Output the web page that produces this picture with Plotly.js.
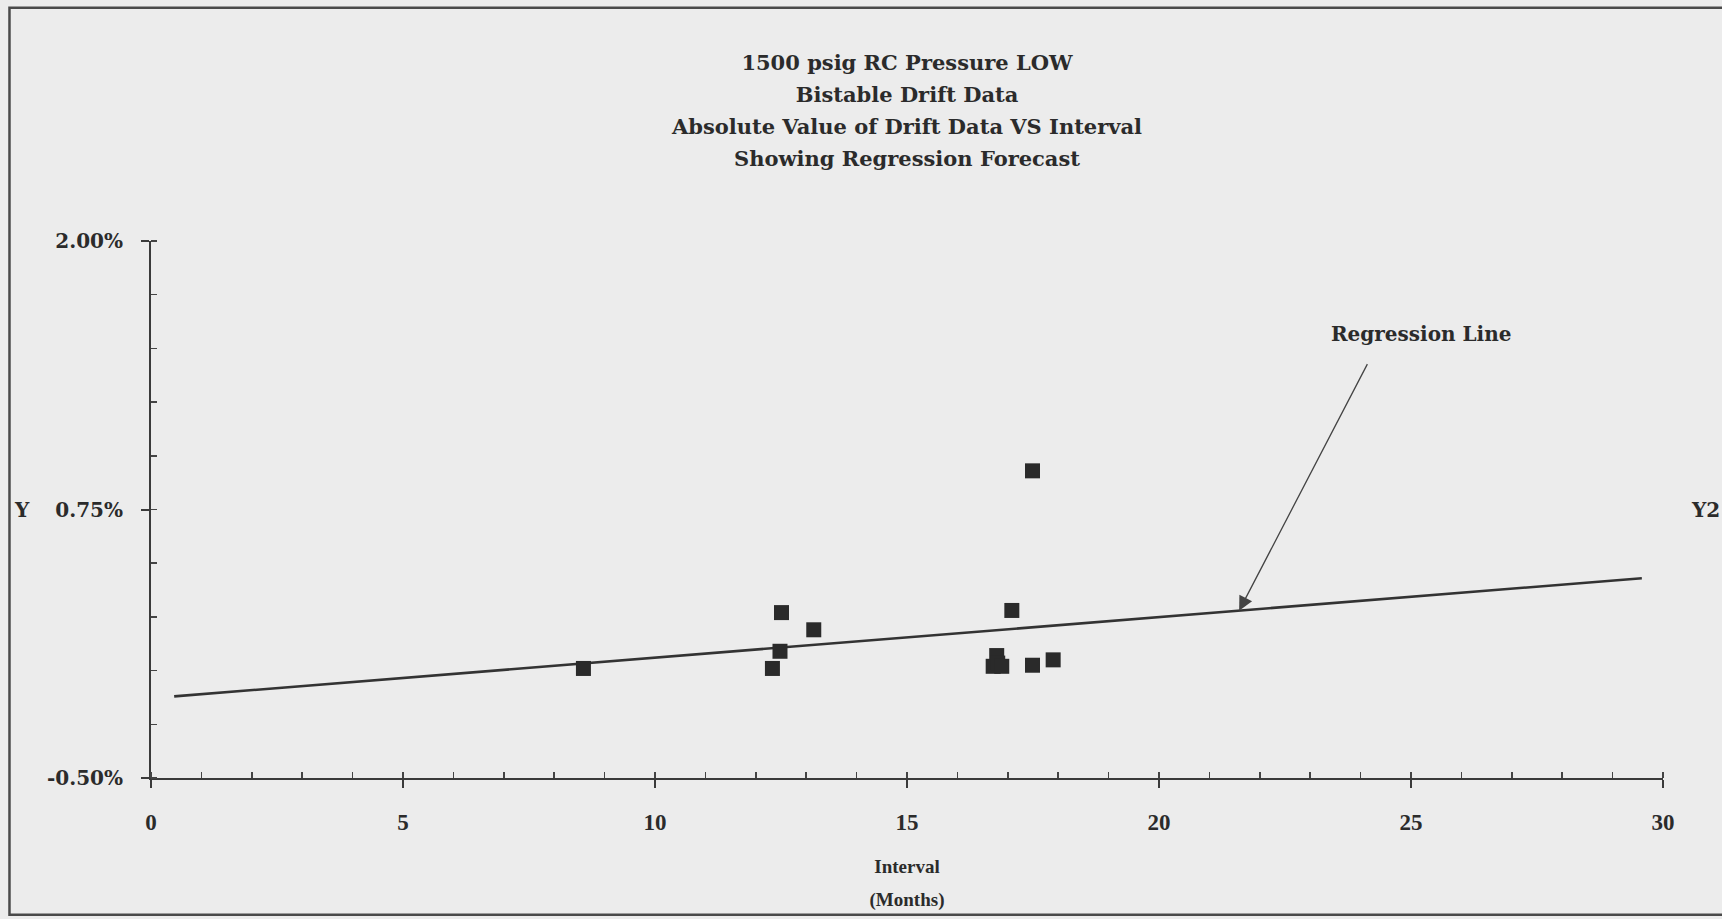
<!DOCTYPE html>
<html>
<head>
<meta charset="utf-8">
<script src="https://cdn.plot.ly/plotly-3.0.1.min.js"></script>
<style>
  html, body { margin: 0; padding: 0; background: #ececec; }
  #chart { width: 1722px; height: 919px; }
</style>
</head>
<body>
<div id="chart"></div>
<script>
// Absolute bistable drift (%) against calibration interval (months)
const intervalMonths = [8.58, 12.33, 12.48, 12.51, 13.15, 16.71, 16.78, 16.80, 16.88, 17.08, 17.49, 17.49, 17.90];
const driftPercent   = [0.01, 0.01, 0.09, 0.27, 0.19, 0.02, 0.07, 0.035, 0.02, 0.28, 0.025, 0.93, 0.05];

// Regression forecast line end points
const regressionMonths  = [0.46, 29.58];
const regressionPercent = [-0.12, 0.43];

// Axis ticks
const xTickVals = [0, 5, 10, 15, 20, 25, 30];
const xTickText = ['0', '5', '10', '15', '20', '25', '30'];
const yTickVals = [-0.5, 0.75, 2.0];
const yTickText = ['-0.50%', '0.75%', '2.00%'];

const titleLines = [
  '1500 psig RC Pressure LOW',
  'Bistable Drift Data',
  'Absolute Value of Drift Data VS Interval',
  'Showing Regression Forecast'
];
const xTitleLines = ['Interval', '(Months)'];

const INK = '#2b2b2b';
const SERIF_WIDE = 'DejaVu Serif, serif';
const SERIF_TALL = 'Liberation Serif, Times New Roman, serif';

// point on the regression line where the call-out arrow lands
const arrowX = 21.59;
const t = (arrowX - regressionMonths[0]) / (regressionMonths[1] - regressionMonths[0]);
const arrowY = regressionPercent[0] + t * (regressionPercent[1] - regressionPercent[0]);

const spanLines = (lines, px) => lines.map(s => '<span style="font-size:' + px + 'px">' + s + '</span>').join('<br>');

const traces = [
  {
    type: 'scatter', mode: 'lines',
    x: regressionMonths, y: regressionPercent,
    line: { color: '#333333', width: 2.6 },
    hoverinfo: 'skip'
  },
  {
    type: 'scatter', mode: 'markers',
    x: intervalMonths, y: driftPercent,
    marker: { symbol: 'square', size: 15, color: '#2a2a2a', line: { width: 0 } }
  }
];

const layout = {
  width: 1722, height: 919,
  margin: { l: 151, r: 59, t: 241, b: 141, pad: 0 },
  paper_bgcolor: '#ececec',
  plot_bgcolor: '#ececec',
  showlegend: false,
  title: {
    text: spanLines(titleLines, 21),
    font: { family: SERIF_WIDE, size: 24.5, color: INK, weight: 'bold' },
    xref: 'paper', x: 0.5, xanchor: 'center',
    yref: 'container', y: 1 - 70 / 919, yanchor: 'top'
  },
  xaxis: {
    range: [0, 30],
    showline: true, linecolor: '#3a3a3a', linewidth: 2,
    showgrid: false, zeroline: false,
    tickmode: 'array', tickvals: xTickVals, ticktext: xTickText,
    ticks: 'outside', ticklen: 8, tickwidth: 2, tickcolor: '#3a3a3a',
    ticklabelstandoff: 14,
    tickfont: { family: SERIF_TALL, size: 23, color: INK, weight: 'bold' },
    minor: { tickmode: 'linear', tick0: 0, dtick: 1, ticks: 'inside', ticklen: 6, tickwidth: 1.5, tickcolor: '#444', showgrid: false },
    title: {
      text: spanLines(xTitleLines, 19),
      font: { family: SERIF_TALL, size: 25.4, color: INK, weight: 'bold' },
      standoff: 22
    }
  },
  yaxis: {
    range: [-0.5, 2.0],
    showline: true, linecolor: '#3a3a3a', linewidth: 2,
    showgrid: false, zeroline: false,
    tickmode: 'array', tickvals: yTickVals, ticktext: yTickText,
    ticks: 'outside', ticklen: 8, tickwidth: 2, tickcolor: '#3a3a3a',
    ticklabelstandoff: 14,
    tickfont: { family: SERIF_WIDE, size: 20, color: INK, weight: 'bold' },
    minor: { tickmode: 'linear', tick0: -0.5, dtick: 0.25, ticks: 'inside', ticklen: 6, tickwidth: 1.5, tickcolor: '#444', showgrid: false }
  },
  annotations: [
    { text: 'Y', xref: 'paper', yref: 'y', x: -0.085, y: 0.75, xanchor: 'center', showarrow: false,
      font: { family: SERIF_WIDE, size: 20, color: INK, weight: 'bold' } },
    { text: 'Y2', xref: 'paper', yref: 'y', x: 1.0284, y: 0.75, xanchor: 'center', showarrow: false,
      font: { family: SERIF_WIDE, size: 20, color: INK, weight: 'bold' } },
    { text: 'Regression Line', xref: 'x', yref: 'y', x: 25.2, y: 1.568, xanchor: 'center', showarrow: false,
      font: { family: SERIF_WIDE, size: 20, color: INK, weight: 'bold' } },
    { text: '', xref: 'x', yref: 'y', x: arrowX, y: arrowY,
      showarrow: true, ax: 129, ay: -248, arrowhead: 2, arrowsize: 2.2, arrowwidth: 1.3,
      arrowcolor: '#444', standoff: 0, startstandoff: 0 }
  ],
  shapes: [
    // page frame
    { type: 'rect', xref: 'paper', yref: 'paper', x0: -0.0936, x1: 1.06, y0: -0.2545, y1: 1.4344,
      line: { color: '#4a4a4a', width: 2.5 }, fillcolor: 'rgba(0,0,0,0)', layer: 'below' }
  ]
};

Plotly.newPlot('chart', traces, layout, { staticPlot: true, displayModeBar: false });
</script>
</body>
</html>
